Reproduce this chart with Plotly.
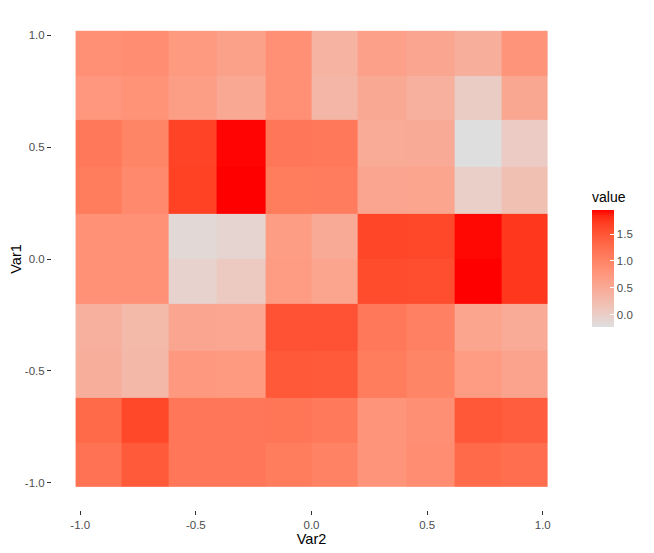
import plotly.graph_objects as go
import numpy as np

# Block edges (Var2 along x, Var1 along y); each block split into 2 halves
x_edges = [-1.02, -0.82, -0.62, -0.41, -0.2, 0.0, 0.2, 0.41, 0.62, 0.82, 1.02]
y_edges = [-1.02, -0.82, -0.62, -0.41, -0.2, 0.0, 0.2, 0.41, 0.62, 0.82, 1.02]

# values, rows listed TOP to BOTTOM (Var1 = 1.0 ... -1.0)
rows_top_to_bottom = [
    [0.84, 0.88, 0.72, 0.62, 0.84, 0.38, 0.63, 0.56, 0.44, 0.79],
    [0.76, 0.81, 0.66, 0.52, 0.84, 0.33, 0.52, 0.42, 0.04, 0.54],
    [1.14, 0.98, 1.66, 1.94, 1.15, 1.14, 0.49, 0.50, -0.22, 0.05],
    [1.09, 0.93, 1.68, 1.95, 1.09, 1.08, 0.56, 0.58, 0.00, 0.20],
    [0.83, 0.83, -0.15, -0.08, 0.68, 0.50, 1.64, 1.63, 1.93, 1.75],
    [0.83, 0.83, -0.05, 0.07, 0.69, 0.58, 1.59, 1.58, 1.95, 1.75],
    [0.42, 0.30, 0.56, 0.55, 1.53, 1.53, 1.14, 1.04, 0.57, 0.49],
    [0.43, 0.31, 0.73, 0.72, 1.47, 1.45, 1.09, 0.98, 0.69, 0.60],
    [1.30, 1.62, 1.15, 1.15, 1.16, 1.13, 0.78, 0.85, 1.48, 1.43],
    [1.20, 1.45, 1.15, 1.15, 1.09, 1.02, 0.78, 0.88, 1.29, 1.24],
]
z = rows_top_to_bottom[::-1]

tick_vals = [-1.0, -0.5, 0.0, 0.5, 1.0]
tick_text = ["-1.0", "-0.5", "0.0", "0.5", "1.0"]
cbar_vals = [0.0, 0.5, 1.0, 1.5]
cbar_text = ["0.0", "0.5", "1.0", "1.5"]

# ---- Lab-space gradient (like ggplot's scale_fill_gradient) ----
def srgb_to_lin(c):
    c = c / 255.0
    return np.where(c <= 0.04045, c / 12.92, ((c + 0.055) / 1.055) ** 2.4)

def lin_to_srgb(c):
    c = np.clip(c, 0, 1)
    return 255 * np.where(c <= 0.0031308, 12.92 * c, 1.055 * c ** (1 / 2.4) - 0.055)

M = np.array([[0.4124, 0.3576, 0.1805], [0.2126, 0.7152, 0.0722], [0.0193, 0.1192, 0.9505]])
WHITE = M @ np.ones(3)

def f(t):
    d = 6 / 29
    return np.where(t > d ** 3, np.cbrt(t), t / (3 * d * d) + 4 / 29)

def finv(t):
    d = 6 / 29
    return np.where(t > d, t ** 3, 3 * d * d * (t - 4 / 29))

def rgb_to_lab(rgb):
    xyz = M @ srgb_to_lin(np.array(rgb, float)) / WHITE
    fx, fy, fz = f(xyz)
    return np.array([116 * fy - 16, 500 * (fx - fy), 200 * (fy - fz)])

def lab_to_rgb(lab):
    L, a, b = lab
    fy = (L + 16) / 116
    fx = fy + a / 500
    fz = fy - b / 200
    xyz = np.array([finv(fx), finv(fy), finv(fz)]) * WHITE
    return lin_to_srgb(np.linalg.solve(M, xyz))

low = rgb_to_lab([222, 222, 222])
high = rgb_to_lab([255, 0, 0])
colorscale = []
for t in np.linspace(0, 1, 21):
    r, g, b = lab_to_rgb(low + (high - low) * t)
    colorscale.append([float(t), f"rgb({int(round(r))},{int(round(g))},{int(round(b))})"])

# Page body has an 8px offset; positions below are in figure coordinates.
fig = go.Figure(go.Heatmap(
    x=x_edges, y=y_edges, z=z,
    colorscale=colorscale, zmin=-0.22, zmax=1.95,
    colorbar=dict(
        title=dict(text="value", side="top", font=dict(size=14, color="#000000")),
        tickvals=cbar_vals, ticktext=cbar_text,
        ticks="inside", ticklen=4, tickcolor="white",
        tickfont=dict(size=11.5, color="#4D4D4D"),
        thickness=22, len=138, lenmode="pixels",
        x=1.0405, xanchor="left", xpad=0,
        y=0.365, yanchor="bottom", ypad=0,
        outlinewidth=0,
    ),
    hoverinfo="skip",
))

axis_common = dict(
    showgrid=False, zeroline=False, showline=False, automargin=False,
    ticks="outside", ticklen=4, tickwidth=1, tickcolor="#333333",
    tickfont=dict(size=11.5, color="#4D4D4D", family="Liberation Sans, Arial"),
    tickvals=tick_vals, ticktext=tick_text,
    range=[-1.122, 1.122],
)

fig.update_layout(
    width=654, height=553,
    margin=dict(l=44, r=91, t=0, b=51),
    plot_bgcolor="white", paper_bgcolor="white",
    font=dict(family="Liberation Sans, Arial"),
    xaxis=dict(**axis_common,
               title=dict(text="Var2", font=dict(size=14.5, color="#000000"), standoff=0)),
    yaxis=dict(**axis_common,
               title=dict(text="Var1", font=dict(size=14.5, color="#000000"), standoff=4)),
)

fig.write_html("out.html")
